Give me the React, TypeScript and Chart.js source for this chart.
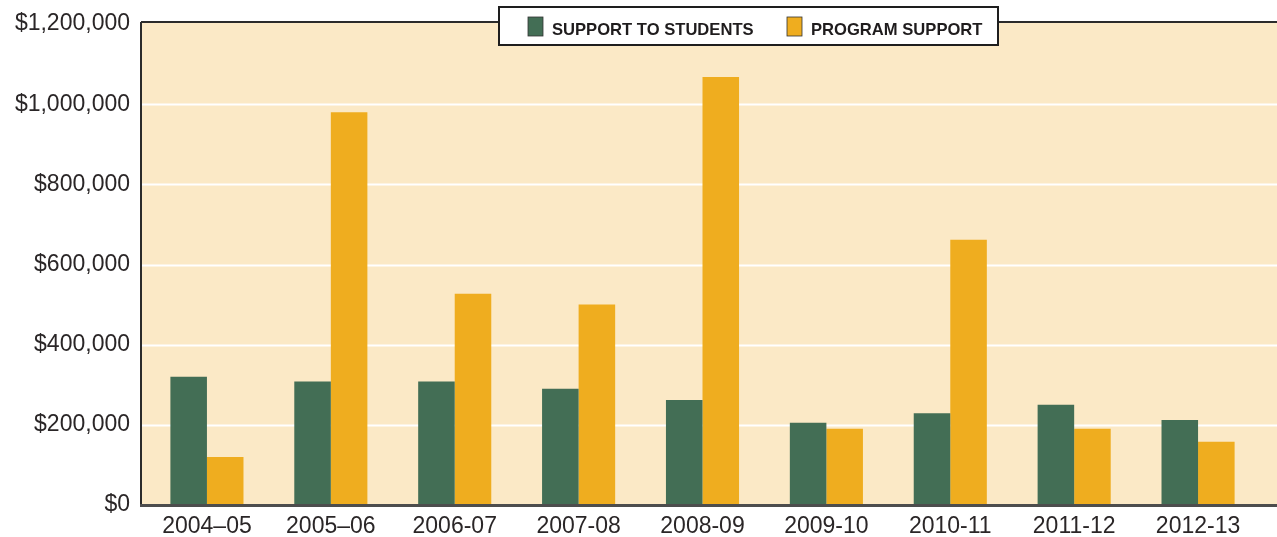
import React, { useEffect, useRef } from "react";
import { Chart, registerables } from "chart.js";

Chart.register(...registerables);

const categories = ["2004–05", "2005–06", "2006-07", "2007-08", "2008-09", "2009-10", "2010-11", "2011-12", "2012-13"];
const supportToStudents = [320000, 308000, 308000, 290000, 262000, 205000, 229000, 250000, 212000];
const programSupport = [120000, 980000, 527000, 500000, 1068000, 190000, 662000, 190000, 158000];
const seriesLabels = ["SUPPORT TO STUDENTS", "PROGRAM SUPPORT"];
const seriesColors = ["#436e55", "#efad1f"];
const yMax = 1200000;
const yStep = 200000;

const FONT = "'Liberation Sans', Arial, Helvetica, sans-serif";
const BG = "#fbe9c6";
const TEXT = "#2a2627";

const framePlugin = {
  id: "frame",
  beforeDatasetsDraw(chart: any) {
    const { ctx, chartArea, scales } = chart;
    const y = scales.y;
    const left = chartArea.left - 4;
    const right = chart.width;
    const top = chartArea.top - 2;
    ctx.save();
    ctx.fillStyle = BG;
    ctx.fillRect(left, top, right - left, chartArea.bottom - top);
    ctx.strokeStyle = "#ffffff";
    ctx.lineWidth = 2;
    y.ticks.forEach((t: any) => {
      if (t.value === 0 || t.value === yMax) return;
      const py = Math.round(y.getPixelForValue(t.value)) + 0.5;
      ctx.beginPath();
      ctx.moveTo(left, py);
      ctx.lineTo(right, py);
      ctx.stroke();
    });
    ctx.restore();
  },
  afterDatasetsDraw(chart: any) {
    const { ctx, chartArea } = chart;
    const left = chartArea.left - 4;
    const right = chart.width;
    const top = chartArea.top - 2;
    ctx.save();
    ctx.strokeStyle = "#2b2b2b";
    ctx.lineWidth = 2;
    ctx.beginPath();
    ctx.moveTo(left, top);
    ctx.lineTo(right, top);
    ctx.stroke();
    ctx.beginPath();
    ctx.moveTo(left, top);
    ctx.lineTo(left, chartArea.bottom + 1);
    ctx.stroke();
    ctx.strokeStyle = "#4d4d4d";
    ctx.lineWidth = 3;
    ctx.beginPath();
    ctx.moveTo(left - 1, chartArea.bottom + 0.5);
    ctx.lineTo(right, chartArea.bottom + 0.5);
    ctx.stroke();

    const bx = 499, by = 7, bw = 499, bh = 38;
    ctx.fillStyle = "#ffffff";
    ctx.fillRect(bx, by, bw, bh);
    ctx.strokeStyle = "#1e1e1e";
    ctx.lineWidth = 2;
    ctx.strokeRect(bx, by, bw, bh);
    const items = chart.data.datasets.map((d: any) => ({ label: d.label, color: d.backgroundColor }));
    const swatchX = [528, 787];
    ctx.font = `bold 16.6px ${FONT}`;
    ctx.textBaseline = "alphabetic";
    ctx.textAlign = "left";
    items.forEach((it: any, i: number) => {
      const sx = swatchX[i];
      ctx.fillStyle = it.color;
      ctx.fillRect(sx, 17, 15, 19);
      ctx.strokeStyle = "#333";
      ctx.lineWidth = 0.8;
      ctx.strokeRect(sx, 17, 15, 19);
      ctx.fillStyle = "#1f1c1d";
      ctx.fillText(it.label, sx + 24, 34.5);
    });
    ctx.restore();
  },
};

export default function App() {
  const ref = useRef<HTMLCanvasElement | null>(null);
  useEffect(() => {
    document.body.style.margin = "0";
    const canvas = ref.current;
    if (!canvas) return;
    const chart = new Chart(canvas, {
      type: "bar",
      data: {
        labels: categories,
        datasets: [
          { label: seriesLabels[0], data: supportToStudents, backgroundColor: seriesColors[0], borderWidth: 0 },
          { label: seriesLabels[1], data: programSupport, backgroundColor: seriesColors[1], borderWidth: 0 },
        ],
      },
      options: {
        animation: false,
        responsive: false,
        maintainAspectRatio: false,
        devicePixelRatio: 1,
        layout: { padding: { top: 24, right: 17, left: 0, bottom: 0 } },
        plugins: {
          legend: { display: false },
          tooltip: { enabled: false },
        },
        datasets: {
          bar: { categoryPercentage: 0.59, barPercentage: 1 },
        },
        scales: {
          x: {
            grid: { display: false, drawTicks: false },
            border: { display: false },
            ticks: {
              color: TEXT,
              font: { family: FONT, size: 23 },
              padding: 8,
              maxRotation: 0,
              autoSkip: false,
            },
            afterFit(scale: any) {
              scale.height = 32;
              scale.paddingLeft = 0;
              scale.paddingRight = 0;
            },
          },
          y: {
            min: 0,
            max: yMax,
            grid: { display: false, drawTicks: false },
            border: { display: false },
            ticks: {
              stepSize: yStep,
              color: TEXT,
              font: { family: FONT, size: 23 },
              padding: 15,
              callback: (v: any) => "$" + Number(v).toLocaleString("en-US"),
            },
            afterFit(scale: any) {
              scale.width = 145;
              scale.paddingTop = 0;
              scale.paddingBottom = 0;
            },
          },
        },
      },
      plugins: [framePlugin],
    });
    return () => chart.destroy();
  }, []);
  return (
    <div style={{ width: 1277, height: 537, background: "#ffffff" }}>
      <canvas ref={ref} width={1277} height={537} style={{ display: "block" }} />
    </div>
  );
}
